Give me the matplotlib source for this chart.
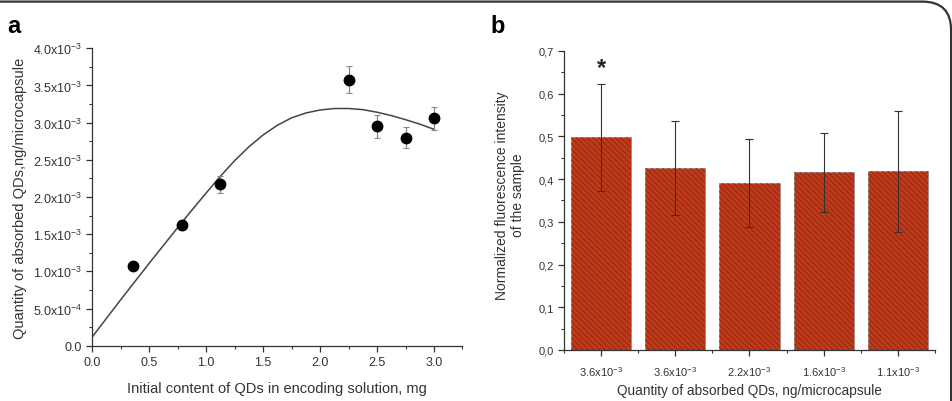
import matplotlib
matplotlib.use("Agg")
import matplotlib.pyplot as plt
from matplotlib.patches import FancyBboxPatch
from matplotlib.ticker import MultipleLocator, FixedLocator

plt.rcParams["font.family"] = ["Liberation Sans", "DejaVu Sans"]
plt.rcParams["mathtext.fontset"] = "custom"
plt.rcParams["mathtext.rm"] = "Liberation Sans"
plt.rcParams["mathtext.it"] = "Liberation Sans:italic"
plt.rcParams["mathtext.bf"] = "Liberation Sans:bold"
plt.rcParams["hatch.linewidth"] = 0.6

# panel a: measured points (mg, ng/microcapsule)
initial_content = [0.36, 0.79, 1.12, 2.25, 2.50, 2.75, 3.00]
absorbed_qds = [1.077e-3, 1.625e-3, 2.17e-3, 3.576e-3, 2.95e-3, 2.80e-3, 3.06e-3]
absorbed_err = [0.03e-3, 0.07e-3, 0.11e-3, 0.18e-3, 0.15e-3, 0.145e-3, 0.157e-3]

# panel a: fitted curve
fit_x = [0.0, 0.125, 0.25, 0.375, 0.5, 0.625, 0.75, 0.875, 1.0, 1.125,
         1.25, 1.375, 1.5, 1.625, 1.75, 1.875, 2.0, 2.125, 2.25, 2.375,
         2.5, 2.625, 2.75, 2.875, 3.0]
fit_y = [0.12e-3, 0.37e-3, 0.62e-3, 0.865e-3, 1.11e-3, 1.35e-3, 1.59e-3,
         1.825e-3, 2.055e-3, 2.28e-3, 2.49e-3, 2.675e-3, 2.835e-3, 2.965e-3,
         3.065e-3, 3.13e-3, 3.17e-3, 3.19e-3, 3.19e-3, 3.175e-3, 3.14e-3,
         3.095e-3, 3.04e-3, 2.98e-3, 2.91e-3]

a_yticks = [0.0, 0.5e-3, 1.0e-3, 1.5e-3, 2.0e-3, 2.5e-3, 3.0e-3, 3.5e-3, 4.0e-3]
a_yticklabels = ["0.0", r"5.0x10$^{-4}$", r"1.0x10$^{-3}$", r"1.5x10$^{-3}$",
                 r"2.0x10$^{-3}$", r"2.5x10$^{-3}$", r"3.0x10$^{-3}$",
                 r"3.5x10$^{-3}$", r"4.0x10$^{-3}$"]

# panel b: normalized fluorescence
sample_labels = [r"3.6x10$^{-3}$", r"3.6x10$^{-3}$", r"2.2x10$^{-3}$",
                 r"1.6x10$^{-3}$", r"1.1x10$^{-3}$"]
fluorescence = [0.498, 0.425, 0.390, 0.416, 0.418]
fluorescence_err = [0.125, 0.110, 0.103, 0.093, 0.142]
b_yticks = [0.0, 0.1, 0.2, 0.3, 0.4, 0.5, 0.6, 0.7]
b_yticklabels = ["0,0", "0,1", "0,2", "0,3", "0,4", "0,5", "0,6", "0,7"]

TEXT = "#333333"
BAR_FACE = "#bf3a1b"
BAR_HATCH = "#8c2610"


def style_axis(ax):
    for side in ("top", "right"):
        ax.spines[side].set_visible(False)
    for side in ("left", "bottom"):
        ax.spines[side].set_color(TEXT)
        ax.spines[side].set_linewidth(0.9)
    ax.tick_params(which="both", direction="out", colors=TEXT)
    ax.tick_params(which="major", length=4, width=0.9)
    ax.tick_params(which="minor", length=2.5, width=0.8)


fig = plt.figure(figsize=(9.53, 4.02), dpi=100)

# panel a
ax_a = fig.add_axes([0.0969, 0.1376, 0.3884, 0.7398])
ax_a.plot(fit_x, fit_y, color="#444444", linewidth=1.1)
ax_a.errorbar(initial_content, absorbed_qds, yerr=absorbed_err, fmt="o",
              color="black", markersize=7.5, ecolor="#888888",
              elinewidth=0.9, capsize=2.5, capthick=0.8)
ax_a.set_xlim(0, 3.25)
ax_a.set_ylim(0, 4.0e-3)
ax_a.xaxis.set_major_locator(FixedLocator([0.0, 0.5, 1.0, 1.5, 2.0, 2.5, 3.0]))
ax_a.xaxis.set_minor_locator(MultipleLocator(0.25))
ax_a.set_yticks(a_yticks)
ax_a.set_yticklabels(a_yticklabels)
ax_a.yaxis.set_minor_locator(MultipleLocator(0.25e-3))
style_axis(ax_a)
ax_a.tick_params(axis="both", labelsize=9)
ax_a.set_xlabel("Initial content of QDs in encoding solution, mg",
                fontsize=10.5, color=TEXT, labelpad=9)
ax_a.set_ylabel("Quantity of absorbed QDs,ng/microcapsule",
                fontsize=10.5, color=TEXT, labelpad=4)

# panel b
ax_b = fig.add_axes([0.5918, 0.1269, 0.3893, 0.7438])
positions = list(range(len(fluorescence)))
ax_b.bar(positions, fluorescence, width=0.81, color=BAR_FACE,
         edgecolor="#9a8a86", linewidth=0.6, zorder=2)
ax_b.bar(positions, fluorescence, width=0.81, color="none",
         edgecolor=BAR_HATCH, hatch="\\\\\\\\\\\\", linewidth=0, zorder=3)
ax_b.errorbar(positions, fluorescence, yerr=fluorescence_err, fmt="none",
              ecolor="#333333", elinewidth=0.8, capsize=3, capthick=0.8,
              zorder=4)
ax_b.text(positions[0], fluorescence[0] + fluorescence_err[0] + 0.012, "*",
          ha="center", va="bottom", fontsize=17, fontweight="bold",
          color="#222222")
ax_b.set_xlim(-0.5, 4.5)
ax_b.set_ylim(0, 0.7)
ax_b.set_xticks(positions)
ax_b.set_xticklabels(sample_labels)
ax_b.xaxis.set_minor_locator(FixedLocator([-0.5, 0.5, 1.5, 2.5, 3.5, 4.5]))
ax_b.set_yticks(b_yticks)
ax_b.set_yticklabels(b_yticklabels)
ax_b.yaxis.set_minor_locator(MultipleLocator(0.05))
style_axis(ax_b)
ax_b.tick_params(axis="y", labelsize=8)
ax_b.tick_params(axis="x", labelsize=8, pad=6)
ax_b.set_xlabel("Quantity of absorbed QDs, ng/microcapsule",
                fontsize=9.8, color=TEXT, labelpad=4)
ax_b.set_ylabel("Normalized fluorescence intensity\nof the sample",
                fontsize=10, color=TEXT)
ax_b.yaxis.set_label_coords(-0.105, 0.52)

# panel letters
fig.text(0.008, 0.918, "a", fontsize=17, fontweight="bold", color="black")
fig.text(0.515, 0.918, "b", fontsize=17, fontweight="bold", color="black")

# rounded frame around the figure (cropped on left and bottom)
frame = FancyBboxPatch((-0.05, -0.1), 1.048, 1.0935,
                       boxstyle="round,pad=0,rounding_size=0.03",
                       transform=fig.transFigure, facecolor="none",
                       edgecolor="#333333", linewidth=1.6, clip_on=False,
                       mutation_aspect=953 / 402)
fig.patches.append(frame)

fig.savefig("out.png", dpi=100)
